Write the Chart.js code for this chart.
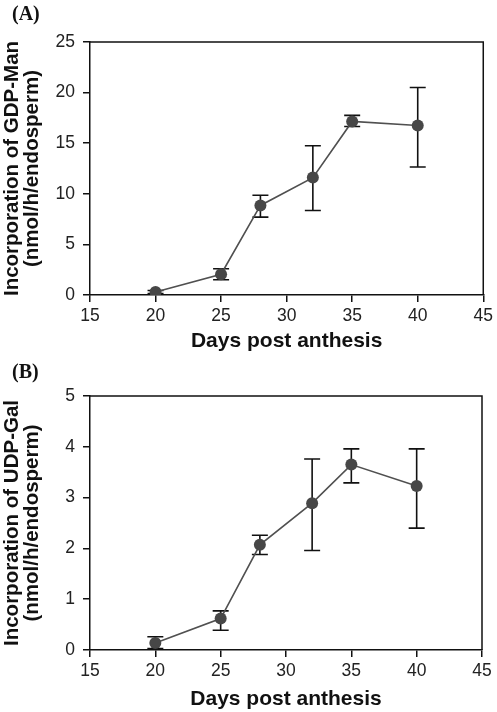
<!DOCTYPE html>
<html>
<head>
<meta charset="utf-8">
<script src="https://cdn.jsdelivr.net/npm/chart.js@4/dist/chart.umd.min.js"></script>
<style>
  html, body { margin: 0; padding: 0; background: #fff; }
  #wrap { position: relative; width: 497px; height: 712px; }
  .panel { position: absolute; left: 0; width: 497px; height: 356px; }
  .lbl { position: absolute; left: 12px; font: bold 20px "Liberation Serif", "DejaVu Serif", serif; color: #111; }
</style>
</head>
<body>
<div id="wrap">
  <div class="panel" style="top:0"><canvas id="cA" width="497" height="356"></canvas></div>
  <div class="panel" style="top:356px"><canvas id="cB" width="497" height="356"></canvas></div>
  <div class="lbl" style="top:2px">(A)</div>
  <div class="lbl" style="top:360px">(B)</div>
</div>
<script>
// ---- data ----
const days = [20, 25, 28, 32, 35, 40];

const gdpManMean = [0.3, 2.05, 8.85, 11.6, 17.15, 16.75];
const gdpManHigh = [0.45, 2.6, 9.85, 14.75, 17.75, 20.5];
const gdpManLow  = [0.15, 1.5, 7.7, 8.35, 16.65, 12.65];

const udpGalMean = [0.14, 0.62, 2.07, 2.89, 3.65, 3.23];
const udpGalHigh = [0.26, 0.77, 2.26, 3.76, 3.96, 3.96];
const udpGalLow  = [0.03, 0.39, 1.88, 1.96, 3.29, 2.40];

const xTitle = 'Days post anthesis';
const yTitleA = ['Incorporation of GDP-Man', '(nmol/h/endosperm)'];
const yTitleB = ['Incorporation of UDP-Gal', '(nmol/h/endosperm)'];

// ---- plugins ----
const boxPlugin = {
  id: 'box',
  afterDraw(chart) {
    const {ctx, chartArea: a} = chart;
    ctx.save();
    ctx.strokeStyle = '#111';
    ctx.lineWidth = 1.5;
    ctx.beginPath();
    ctx.moveTo(a.left, a.top);
    ctx.lineTo(a.right, a.top);
    ctx.lineTo(a.right, a.bottom);
    ctx.stroke();
    ctx.restore();
  }
};

const errorBarPlugin = {
  id: 'errbars',
  beforeDatasetsDraw(chart, args, opts) {
    const {ctx} = chart;
    const xs = chart.scales.x, ys = chart.scales.y;
    const hi = opts.high, lo = opts.low, xv = opts.xs;
    ctx.save();
    ctx.strokeStyle = '#111';
    ctx.lineWidth = 1.6;
    const cap = 8;
    for (let i = 0; i < xv.length; i++) {
      const px = xs.getPixelForValue(xv[i]);
      const pyH = ys.getPixelForValue(hi[i]);
      const pyL = ys.getPixelForValue(lo[i]);
      ctx.beginPath();
      ctx.moveTo(px, pyH); ctx.lineTo(px, pyL);
      ctx.moveTo(px - cap, pyH); ctx.lineTo(px + cap, pyH);
      ctx.moveTo(px - cap, pyL); ctx.lineTo(px + cap, pyL);
      ctx.stroke();
    }
    ctx.restore();
  }
};

function makeChart(id, mean, high, low, yMax, yStep, yTitle, padTop, padRight, xHeight, xTitlePad) {
  const tickFont = {family: '"Liberation Sans", Arial, sans-serif', size: 17.5};
  const xTitleFont = {family: '"Liberation Sans", Arial, sans-serif', size: 21, weight: 'bold', lineHeight: 1.0};
  const yTitleFont = {family: '"Liberation Sans", Arial, sans-serif', size: 20.5, weight: 'bold', lineHeight: 1.0};
  return new Chart(document.getElementById(id), {
    type: 'line',
    data: {
      datasets: [{
        data: days.map((d, i) => ({x: d, y: mean[i]})),
        borderColor: '#505050',
        borderWidth: 1.6,
        backgroundColor: '#474747',
        pointBackgroundColor: '#474747',
        pointBorderColor: '#474747',
        pointRadius: 6,
        pointBorderWidth: 0,
        tension: 0,
        fill: false
      }]
    },
    options: {
      responsive: false,
      animation: false,
      events: [],
      layout: {padding: {top: padTop, right: padRight, left: 0, bottom: 0}},
      plugins: {
        legend: {display: false},
        tooltip: {enabled: false},
        errbars: {xs: days, high: high, low: low}
      },
      scales: {
        x: {
          type: 'linear',
          min: 15, max: 45,
          ticks: {stepSize: 5, color: '#222', font: tickFont, padding: 4},
          grid: {drawOnChartArea: false, color: '#111', tickLength: 7, lineWidth: 1.5},
          border: {color: '#111', width: 1.5},
          title: {display: true, text: xTitle, color: '#111', font: xTitleFont, padding: {top: 0, bottom: xTitlePad}},
          afterFit(s) { s.height = xHeight; }
        },
        y: {
          type: 'linear',
          min: 0, max: yMax,
          ticks: {stepSize: yStep, color: '#222', font: tickFont, padding: 8},
          grid: {drawOnChartArea: false, color: '#111', tickLength: 7, lineWidth: 1.5},
          border: {color: '#111', width: 1.5},
          title: {display: true, text: yTitle, color: '#111', font: yTitleFont, padding: {top: 2, bottom: 0}},
          afterFit(s) { s.width = 90; }
        }
      }
    },
    plugins: [boxPlugin, errorBarPlugin]
  });
}

makeChart('cA', gdpManMean, gdpManHigh, gdpManLow, 25, 5, yTitleA, 42, 13, 61, 4);
makeChart('cB', udpGalMean, udpGalHigh, udpGalLow, 5, 1, yTitleB, 40, 15, 62, 2);
</script>
</body>
</html>
